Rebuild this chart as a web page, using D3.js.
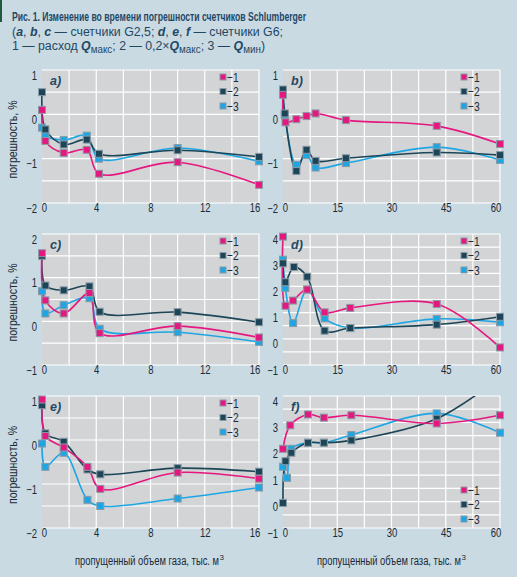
<!DOCTYPE html>
<html>
<head>
<meta charset="utf-8">
<script src="https://cdn.jsdelivr.net/npm/d3@7"></script>
<style>
  html, body { margin: 0; padding: 0; background: #c9dae3; }
  svg { display: block; }
  text { font-family: "Liberation Sans", Arial, sans-serif; }
</style>
</head>
<body>
<script>
// --- data ---
const leftXTicks = [0, 4, 8, 12, 16];
const rightXTicks = [0, 15, 30, 45, 60];
const ticksM2to1 = [-2, -1, 0, 1];
const ticksM1to2 = [-1, 0, 1, 2];
const ticksM1to4 = [-1, 0, 1, 2, 3, 4];
const legendLabels = ["−1", "−2", "−3"];

// a) G2,5
const aX = [0, 0.25, 1.6, 3.3, 4.2, 10, 16];
const aY1 = [0.1, -0.6, -0.87, -0.8, -1.34, -1.08, -1.59];
const aY2 = [0.5, -0.34, -0.68, -0.57, -0.89, -0.81, -0.96];
const aY3 = [-0.3, -0.48, -0.58, -0.48, -1.0, -0.76, -1.06];

// b) G2,5
const bX1 = [0, 0.7, 3.7, 6.5, 9, 17.4, 42.5, 60];
const bY1 = [0.44, -0.18, -0.11, -0.04, 0.02, -0.13, -0.26, -0.67];
const bX2 = [0, 0.5, 3.7, 6.5, 9, 17.4, 42.5, 60];
const bY2 = [0.56, 0.02, -1.28, -0.8, -1.05, -0.99, -0.86, -0.92];
const bY3 = [0.5, -0.02, -1.14, -0.92, -1.2, -1.1, -0.74, -1.03];

// c) G2,5
const cX = [0, 0.25, 1.6, 3.5, 4.25, 10, 16];
const cY1 = [1.56, 0.48, 0.18, 0.65, -0.27, -0.11, -0.37];
const cY2 = [1.5, 0.82, 0.71, 0.8, 0.22, 0.21, -0.02];
const cY3 = [0.69, 0.18, 0.37, 0.53, -0.17, -0.25, -0.47];

// d) G6
const dX1 = [0, 0.7, 2.8, 6.7, 11.5, 18.6, 42.5, 60];
const dY1 = [3.9, 1.26, 1.46, 1.88, 1.01, 1.18, 1.33, -0.33];
const dX2 = [0, 0.65, 3.0, 6.7, 11.5, 18.6, 42.5, 60];
const dY2 = [2.88, 2.16, 2.74, 2.37, 0.31, 0.41, 0.54, 0.84];
const dX3 = [0, 0.65, 2.8, 6.7, 11.5, 18.6, 42.5, 60];
const dY3 = [3.02, 1.94, 0.6, 1.88, 0.78, 0.41, 0.76, 0.63];

// e) G6
const eX = [0, 0.25, 1.6, 3.35, 4.3, 10, 16];
const eY1 = [0.92, 0.09, -0.17, -0.61, -1.11, -0.74, -0.88];
const eY2 = [0.79, 0.15, -0.04, -0.67, -0.78, -0.64, -0.72];
const eY3 = [-0.08, -0.61, -0.29, -1.36, -1.5, -1.33, -1.08];

// f) G6 (series 2 leaves the frame at the top)
const fX1 = [0, 2.0, 6.9, 11.3, 18.9, 42.5, 60];
const fY1 = [2.0, 2.89, 3.3, 3.18, 3.27, 2.96, 3.27];
const fX2 = [0, 0.7, 2.3, 6.9, 11.3, 18.9, 42.5, 60];
const fY2 = [-0.05, 1.53, 1.85, 2.23, 2.23, 2.32, 3.14, 4.7];
const fX3 = [0, 1.1, 2.3, 6.9, 11.3, 18.9, 42.5, 60];
const fY3 = [1.32, 0.9, 2.0, 2.23, 2.23, 2.52, 3.34, 2.61];

const colors = ["#e5187f", "#1c4657", "#1ea6e4"];
const zip = (xs, ys) => xs.map((x, i) => [x, ys[i]]);

const W = 517, H = 577;
const svg = d3.select("body").append("svg").attr("width", W).attr("height", H);

// green mark in the corner
svg.append("rect").attr("x", 0).attr("y", 0).attr("width", 2).attr("height", 22).attr("fill", "#1f5a3e");

// heading
const ink = "#1f4865";
const dark = "#1b2a35";
svg.append("text").attr("x", 12).attr("y", 21)
  .attr("font-size", 13).attr("font-weight", "bold").attr("fill", ink)
  .attr("textLength", 294).attr("lengthAdjust", "spacingAndGlyphs")
  .text("Рис. 1. Изменение во времени погрешности счетчиков Schlumberger");

const t2 = svg.append("text").attr("x", 12).attr("y", 35.5)
  .attr("font-size", 12.5).attr("fill", ink)
  .attr("textLength", 271).attr("lengthAdjust", "spacingAndGlyphs");
[["(", 0], ["a", 1], [", ", 0], ["b", 1], [", ", 0], ["c", 1], [" — счетчики G2,5; ", 0],
 ["d", 1], [", ", 0], ["e", 1], [", ", 0], ["f", 1], [" — счетчики G6;", 0]].forEach(([s, b]) => {
  const sp = t2.append("tspan").text(s);
  if (b) sp.attr("font-weight", "bold").attr("font-style", "italic");
});

// 0 plain, 1 bold italic Q, 2 subscript, 3 plain back on the baseline
const t3 = svg.append("text").attr("x", 12).attr("y", 50)
  .attr("font-size", 12.5).attr("fill", ink)
  .attr("textLength", 253).attr("lengthAdjust", "spacingAndGlyphs");
[["1 — расход ", 0], ["Q", 1], ["макс", 2], ["; 2 — 0,2×", 3], ["Q", 1], ["макс", 2],
 ["; 3 — ", 3], ["Q", 1], ["мин", 2], [")", 3]].forEach(([s, k]) => {
  const sp = t3.append("tspan").text(s);
  if (k === 1) sp.attr("font-weight", "bold").attr("font-style", "italic");
  if (k === 2) sp.attr("font-size", 10).attr("dy", 2.5);
  if (k === 3) sp.attr("dy", -2.5);
});

const panels = [
  { id: "a", x0: 42, y0: 70, h: 133, xd: [0, 16], xStep: 2, xTicks: leftXTicks, yd: [-2, 1], yTicks: ticksM2to1,
    series: [zip(aX, aY1), zip(aX, aY2), zip(aX, aY3)], legend: "top", left: true },
  { id: "b", x0: 283, y0: 70, h: 133, xd: [0, 60], xStep: 7.5, xTicks: rightXTicks, yd: [-2, 1], yTicks: ticksM2to1,
    series: [zip(bX1, bY1), zip(bX2, bY2), zip(bX2, bY3)], legend: "top" },
  { id: "c", x0: 42, y0: 234, h: 131, xd: [0, 16], xStep: 2, xTicks: leftXTicks, yd: [-1, 2], yTicks: ticksM1to2,
    series: [zip(cX, cY1), zip(cX, cY2), zip(cX, cY3)], legend: "top", left: true },
  { id: "d", x0: 283, y0: 234, h: 131, xd: [0, 60], xStep: 7.5, xTicks: rightXTicks, yd: [-1, 4], yTicks: ticksM1to4,
    series: [zip(dX1, dY1), zip(dX2, dY2), zip(dX3, dY3)], legend: "top" },
  { id: "e", x0: 42, y0: 396, h: 132, xd: [0, 16], xStep: 2, xTicks: leftXTicks, yd: [-2, 1], yTicks: ticksM2to1,
    series: [zip(eX, eY1), zip(eX, eY2), zip(eX, eY3)], legend: "top", left: true, bottom: true },
  { id: "f", x0: 283, y0: 396, h: 132, xd: [0, 60], xStep: 7.5, xTicks: rightXTicks, yd: [-1, 4], yTicks: ticksM1to4,
    series: [zip(fX1, fY1), zip(fX2, fY2), zip(fX3, fY3)], legend: "bottom", bottom: true }
];

const fmt = d => (d < 0 ? "−" + Math.abs(d) : String(d));
const drawOrder = [2, 1, 0]; // cyan under dark under magenta
const narrow = "scale(0.76,1)";

panels.forEach(p => {
  const w = 217;
  const x = d3.scaleLinear().domain(p.xd).range([p.x0, p.x0 + w]);
  const y = d3.scaleLinear().domain(p.yd).range([p.y0 + p.h, p.y0]);
  const g = svg.append("g");

  g.append("rect").attr("x", p.x0).attr("y", p.y0).attr("width", w).attr("height", p.h).attr("fill", "#d3d4d6");

  // white grid
  const xs = d3.range(p.xd[0], p.xd[1] + 0.001, p.xStep);
  const ys = d3.range(p.yd[0], p.yd[1] + 0.001, 0.5);
  g.selectAll(".gx").data(xs.slice(1)).join("line")
    .attr("x1", d => x(d)).attr("x2", d => x(d)).attr("y1", p.y0).attr("y2", p.y0 + p.h)
    .attr("stroke", "#fff").attr("stroke-width", 1.2);
  g.selectAll(".gy").data(ys).join("line")
    .attr("x1", p.x0).attr("x2", p.x0 + w).attr("y1", d => y(d)).attr("y2", d => y(d))
    .attr("stroke", "#fff").attr("stroke-width", 1.2);

  // axes (labels only)
  const ax = g.append("g").attr("transform", `translate(0,${p.y0 + p.h})`)
    .call(d3.axisBottom(x).tickValues(p.xTicks).tickSize(0).tickPadding(0).tickFormat(fmt));
  const ay = g.append("g").attr("transform", `translate(${p.x0},0)`)
    .call(d3.axisLeft(y).tickValues(p.yTicks).tickSize(0).tickPadding(6.5).tickFormat(fmt));
  [ax, ay].forEach(a => {
    a.select(".domain").remove();
    a.selectAll("text").attr("font-size", 12.5).attr("fill", dark)
      .style("font-family", '"Liberation Sans", Arial, sans-serif')
      .attr("transform", narrow);
  });
  const last = p.xTicks.length - 1;
  ax.selectAll("text")
    .attr("text-anchor", (d, i) => (i === 0 ? "start" : i === last ? "end" : "middle"))
    .attr("x", (d, i) => (i === 0 ? -1 : i === last ? 1 : 0));
  ay.selectAll("text").attr("dy", "0.72em");

  // curves, clipped to the frame
  const clipId = "clip-" + p.id;
  g.append("clipPath").attr("id", clipId).append("rect")
    .attr("x", p.x0 - 4).attr("y", p.y0).attr("width", w + 8).attr("height", p.h);
  const line = d3.line().x(d => x(d[0])).y(d => y(d[1])).curve(d3.curveCatmullRom.alpha(0.5));
  drawOrder.forEach(i => {
    g.append("path").datum(p.series[i]).attr("d", line)
      .attr("fill", "none").attr("stroke", colors[i]).attr("stroke-width", 1.6)
      .attr("clip-path", `url(#${clipId})`);
  });
  drawOrder.forEach(i => {
    g.selectAll(null).data(p.series[i].filter(d => d[1] <= p.yd[1] + 0.1)).join("rect")
      .attr("x", d => x(d[0]) - 3.5).attr("y", d => y(d[1]) - 3.5)
      .attr("width", 7).attr("height", 7)
      .attr("fill", colors[i]).attr("stroke", "#8a9aa6").attr("stroke-width", 1);
  });

  // panel letter
  g.append("text").attr("x", p.x0 + 8).attr("y", p.y0 + 15)
    .attr("font-size", 12.5).attr("font-weight", "bold").attr("font-style", "italic").attr("fill", ink)
    .text(p.id + ")");

  // legend
  const lx = p.x0 + w - 36;
  const ly0 = p.legend === "top" ? p.y0 + 7 : p.y0 + p.h - 38;
  legendLabels.forEach((lab, i) => {
    const yy = ly0 + i * 14.5;
    g.append("rect").attr("x", lx - 3).attr("y", yy - 3).attr("width", 6).attr("height", 6)
      .attr("fill", colors[i]).attr("stroke", "#8a9aa6").attr("stroke-width", 1);
    g.append("text").attr("transform", `translate(${lx + 4},${yy + 4.5}) ${narrow}`)
      .attr("font-size", 13.5).attr("fill", dark).text(lab);
  });

  if (p.left) {
    svg.append("text")
      .attr("transform", `translate(17,${p.y0 + p.h / 2 + 3}) rotate(-90)`)
      .attr("text-anchor", "middle").attr("font-size", 12).attr("fill", dark)
      .attr("textLength", 78).attr("lengthAdjust", "spacingAndGlyphs")
      .text("погрешность, %");
  }
  if (p.bottom) {
    const sx = p.left ? 75 : 317;
    svg.append("text").attr("x", sx).attr("y", 565)
      .attr("font-size", 12).attr("fill", dark)
      .attr("textLength", 144).attr("lengthAdjust", "spacingAndGlyphs")
      .text("пропущенный объем газа, тыс. м");
    svg.append("text").attr("x", sx + 144.5).attr("y", 560)
      .attr("font-size", 8).attr("fill", dark).text("3");
  }
});
</script>
</body>
</html>
